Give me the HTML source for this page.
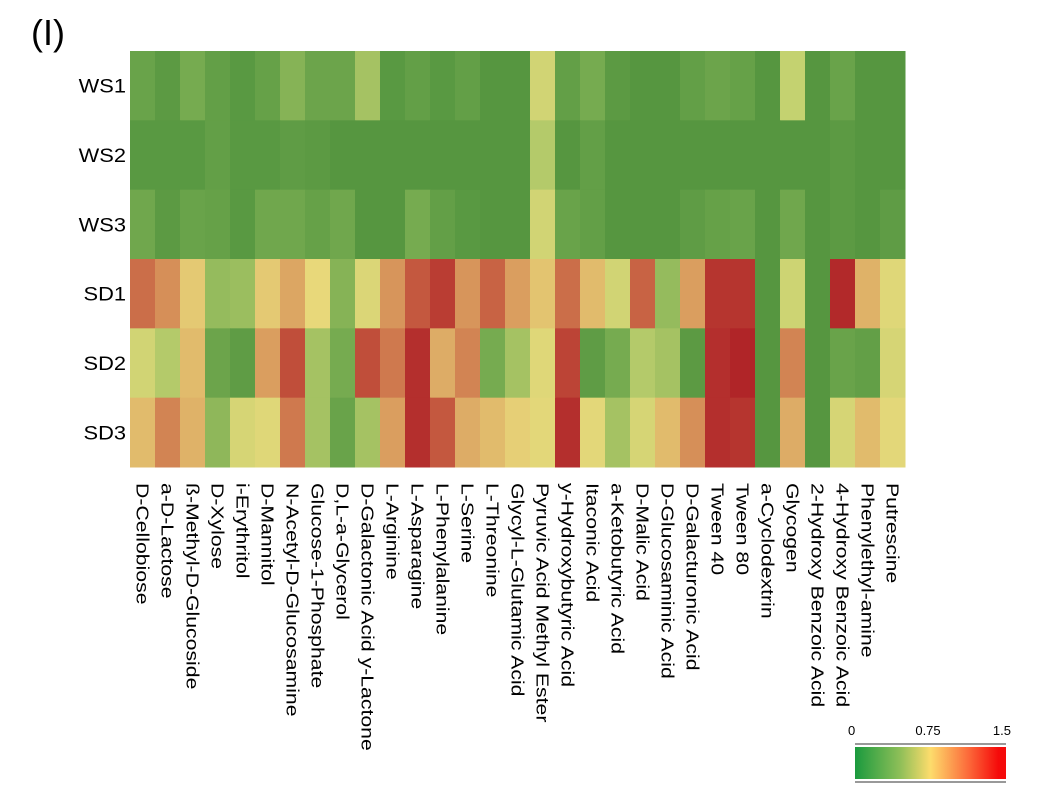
<!DOCTYPE html>
<html><head><meta charset="utf-8"><style>
html,body{margin:0;padding:0;background:#fff;}
svg text{font-family:"Liberation Sans",Arial,sans-serif;fill:#000;}
</style></head><body>
<svg id="chart" width="1052" height="800" viewBox="0 0 1052 800" xmlns="http://www.w3.org/2000/svg">
<defs>
<linearGradient id="lg" x1="0" x2="1" y1="0" y2="0">
<stop offset="0" stop-color="#1a9a3e"/><stop offset="0.3" stop-color="#8fbf58"/><stop offset="0.5" stop-color="#fddc6c"/><stop offset="0.75" stop-color="#fc6a3a"/><stop offset="0.95" stop-color="#f50a0a"/><stop offset="1" stop-color="#f50a0a"/>
</linearGradient>
</defs>
<text x="31" y="45" font-size="36">(I)</text>
<g id="cells"></g>
<g id="rowlabels"></g>
<g id="collabels"></g>
<g>
<line x1="855" y1="744" x2="1006" y2="744" stroke="#999" stroke-width="2"/>
<line x1="855" y1="782" x2="1006" y2="782" stroke="#999" stroke-width="2"/>
<rect x="855" y="747" width="151" height="32" fill="url(#lg)"/>
<text x="848" y="735" font-size="13">0</text>
<text x="928" y="735" font-size="13" text-anchor="middle">0.75</text>
<text x="1011" y="735" font-size="13" text-anchor="end">1.5</text>
</g>
</svg>
<script>
const columns=["D-Cellobiose","a-D-Lactose","ß-Methyl-D-Glucoside","D-Xylose","i-Erythritol","D-Mannitol","N-Acetyl-D-Glucosamine","Glucose-1-Phosphate","D,L-a-Glycerol","D-Galactonic Acid y-Lactone","L-Arginine","L-Asparagine","L-Phenylalanine","L-Serine","L-Threonine","Glycyl-L-Glutamic Acid","Pyruvic Acid Methyl Ester","y-Hydroxybutyric Acid","Itaconic Acid","a-Ketobutyric Acid","D-Malic Acid","D-Glucosaminic Acid","D-Galacturonic Acid","Tween 40","Tween 80","a-Cyclodextrin","Glycogen","2-Hydroxy Benzoic Acid","4-Hydroxy Benzoic Acid","Phenylethyl-amine","Putrescine"];
const rows=["WS1","WS2","WS3","SD1","SD2","SD3"];
const ws1=[0.2,0.1,0.3,0.15,0.08,0.18,0.35,0.22,0.22,0.45,0.08,0.15,0.08,0.15,0.05,0.05,0.62,0.15,0.3,0.1,0.05,0.05,0.15,0.22,0.18,0.05,0.55,0.05,0.2,0.05,0.05];
const ws2=[0.08,0.08,0.08,0.15,0.08,0.08,0.12,0.1,0.05,0.05,0.05,0.05,0.05,0.05,0.05,0.05,0.5,0.05,0.15,0.05,0.05,0.05,0.05,0.05,0.05,0.05,0.05,0.05,0.1,0.05,0.05];
const ws3=[0.25,0.1,0.2,0.18,0.08,0.25,0.25,0.18,0.25,0.05,0.05,0.3,0.15,0.08,0.05,0.05,0.62,0.2,0.15,0.05,0.05,0.05,0.12,0.18,0.2,0.05,0.25,0.05,0.1,0.05,0.12];
const sd1=[1.15,1.0,0.8,0.4,0.42,0.8,0.92,0.75,0.35,0.68,0.98,1.25,1.38,0.98,1.2,0.95,0.82,1.15,0.85,0.62,1.2,0.4,0.95,1.42,1.42,0.05,0.6,0.05,1.48,0.88,0.7];
const sd2=[0.62,0.5,0.85,0.22,0.12,0.95,1.3,0.45,0.3,1.3,1.1,1.45,0.9,1.05,0.3,0.45,0.7,1.35,0.12,0.3,0.5,0.45,0.1,1.45,1.5,0.05,1.05,0.05,0.2,0.15,0.65];
const sd3=[0.85,1.05,0.88,0.38,0.65,0.7,1.1,0.45,0.2,0.45,0.95,1.45,1.25,0.9,0.85,0.78,0.72,1.45,0.72,0.45,0.65,0.85,1.0,1.45,1.42,0.05,0.9,0.05,0.65,0.85,0.72];
const values=[ws1,ws2,ws3,sd1,sd2,sd3];

const X0=130,X1=905,Y0=51,Y1=467;
const cw=(X1-X0)/columns.length, rh=(Y1-Y0)/rows.length;
const xs=i=>X0+i*cw, ys=j=>Y0+j*rh;
const stops=[[0,[79,146,61]],[0.3,[118,171,80]],[0.55,[196,210,112]],[0.75,[232,216,122]],[1.0,[214,143,88]],[1.25,[196,88,63]],[1.5,[176,37,40]]];
function color(v){
  v=Math.max(0,Math.min(1.5,v));
  for(let k=1;k<stops.length;k++){
    if(v<=stops[k][0]){const a=stops[k-1],b=stops[k];const t=(v-a[0])/(b[0]-a[0]);
      const c=a[1].map((x,i)=>Math.round(x+(b[1][i]-x)*t));return `rgb(${c.join(',')})`;}
  }
  return 'rgb(176,37,40)';
}
const NS='http://www.w3.org/2000/svg';
const cells=document.getElementById('cells');
values.forEach((row,j)=>row.forEach((v,i)=>{
  const r=document.createElementNS(NS,'rect');
  r.setAttribute('x',xs(i));r.setAttribute('y',ys(j));
  r.setAttribute('width',cw+0.5);r.setAttribute('height',rh+0.5);
  r.setAttribute('fill',color(v));
  
  
  cells.appendChild(r);
}));
const rl=document.getElementById('rowlabels');
rows.forEach((n,j)=>{
  const t=document.createElementNS(NS,'text');
  t.setAttribute('text-anchor','end');t.setAttribute('font-size','19');
  t.setAttribute('transform',`translate(126,${ys(j)+rh/2+7}) scale(1.15,1)`);
  t.textContent=n;
  
  
  rl.appendChild(t);
});
const cl=document.getElementById('collabels');
columns.forEach((n,i)=>{
  const t=document.createElementNS(NS,'text');
  t.setAttribute('font-size','18');
  t.setAttribute('transform',`translate(${xs(i)+cw/2-6},483) rotate(90) scale(1.18,1)`);
  t.textContent=n;
  
  
  cl.appendChild(t);
});
</script>
</body></html>
